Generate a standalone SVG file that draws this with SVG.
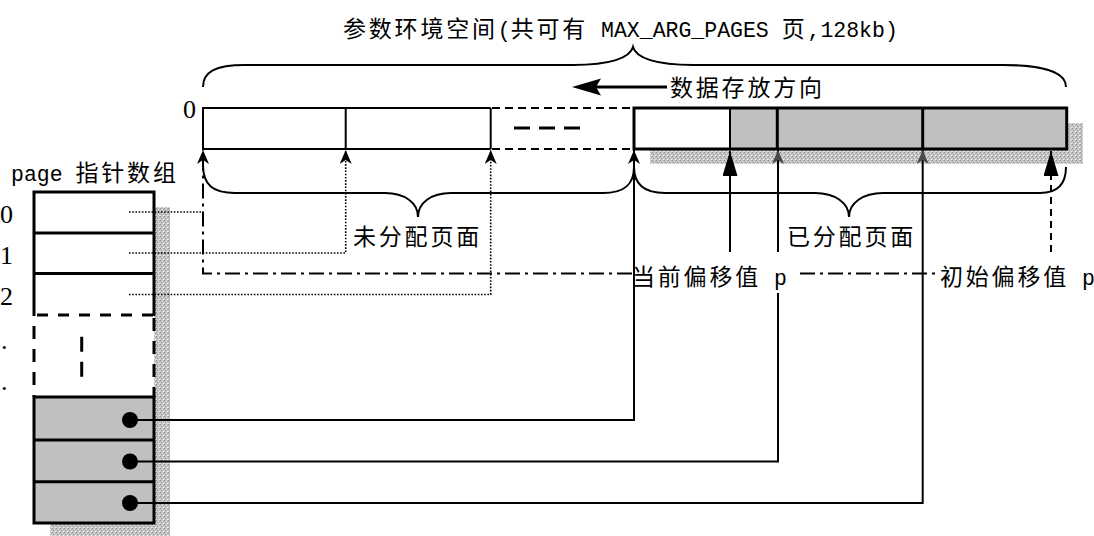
<svg xmlns="http://www.w3.org/2000/svg" width="1094" height="536" viewBox="0 0 1094 536">
<style>
.t{font-family:"Liberation Mono","Noto Sans CJK SC",monospace;font-size:21.5px;fill:#000}
.c{font-family:"Noto Sans CJK SC",sans-serif;font-size:23px;letter-spacing:2.8px}
.d{font-family:"Liberation Serif",serif;font-size:26px;fill:#000}
.ln{fill:none;stroke:#000}
.dot{fill:none;stroke:#000;stroke-width:1.6;stroke-dasharray:1.6 1.6}
.dd{fill:none;stroke:#000;stroke-width:2;stroke-dasharray:15 5 3 5}
.brace{fill:none;stroke:#000;stroke-width:2}
</style>
<defs>
<pattern id="stip" width="4" height="4" patternUnits="userSpaceOnUse">
<rect width="4" height="4" fill="#c4c4c4"/>
<rect x="0" y="0" width="1" height="1" fill="#8c8c8c"/>
<rect x="2" y="1" width="1" height="1" fill="#e6e6e6"/>
<rect x="1" y="2" width="1" height="1" fill="#9a9a9a"/>
<rect x="3" y="3" width="1" height="1" fill="#eeeeee"/>
<rect x="3" y="1" width="1" height="1" fill="#a8a8a8"/>
<rect x="0" y="3" width="1" height="1" fill="#dddddd"/>
</pattern>
<marker id="stealth" viewBox="0 0 14 12" refX="14" refY="6" markerWidth="14" markerHeight="12" markerUnits="userSpaceOnUse" orient="auto"><path d="M0,0 L14,6 L0,12 L4,6 Z" fill="#000"/></marker>
<marker id="stealthg" viewBox="0 0 14 12" refX="14" refY="6" markerWidth="14" markerHeight="12" markerUnits="userSpaceOnUse" orient="auto"><path d="M0,0 L14,6 L0,12 L4,6 Z" fill="#4a4a4a"/></marker>
<marker id="tri" viewBox="0 0 25 15" refX="25" refY="7.5" markerWidth="25" markerHeight="15" markerUnits="userSpaceOnUse" orient="auto"><path d="M0,0 L25,7.5 L0,15 Z" fill="#000"/></marker>
</defs>
<rect width="1094" height="536" fill="#fff"/>

<!-- title and top brace -->
<g id="title">
<text class="t" x="343" y="37"><tspan class="c">参数环境空间</tspan>(<tspan class="c">共可有</tspan> MAX_ARG_PAGES <tspan class="c">页</tspan>,128kb)</text>
<path class="brace" d="M203,87 C203,72 215,65 245,65 L573,65 C610,65 630,58 633,47 C636,58 656,65 693,65 L1003,65 C1042,65 1066,72 1066,87"/>
</g>

<g id="direction">
<line class="ln" x1="596" y1="87" x2="667" y2="87" stroke-width="3"/>
<path d="M572,87 L601,78.5 L596,87 L601,95.5 Z" fill="#000"/>
<text class="t" x="670" y="96"><tspan class="c">数据存放方向</tspan></text>
</g>

<!-- parameter space strip -->
<g id="param-space">
<rect x="650" y="123" width="433" height="41" fill="url(#stip)"/>
<text class="d" x="183" y="118">0</text>
<path class="ln" stroke-width="2" d="M490.7,108 L203,108 L203,149 L490.7,149 M345.7,108 V149 M490.7,108 V149"/>
<path class="ln" stroke-width="2" stroke-dasharray="8 5" d="M492,108 H634 M492,149 H634"/>
<line class="ln" x1="514" y1="128" x2="581" y2="128" stroke-width="3" stroke-dasharray="16 9"/>
<rect x="634" y="108" width="96" height="41" fill="#fff"/>
<rect x="730" y="108" width="336.7" height="41" fill="#c0c0c0"/>
<line class="ln" x1="730" y1="108" x2="730" y2="149" stroke-width="2"/>
<line class="ln" x1="777.3" y1="108" x2="777.3" y2="149" stroke-width="3"/>
<line class="ln" x1="922.7" y1="108" x2="922.7" y2="149" stroke-width="3"/>
<rect x="634" y="108" width="432.7" height="41" fill="none" stroke="#000" stroke-width="3"/>
</g>

<!-- page pointer array -->
<g id="page-array">
<rect x="50" y="207" width="120" height="331" fill="url(#stip)"/>
<text class="t" x="11" y="181">page <tspan class="c">指针数组</tspan></text>
<text class="d" x="0" y="223">0</text>
<text class="d" x="0" y="264">1</text>
<text class="d" x="0" y="305">2</text>
<text class="d" x="1" y="349">.</text>
<text class="d" x="1" y="390">.</text>
<rect x="34" y="192" width="120" height="123" fill="#fff"/>
<rect x="34" y="315" width="120" height="82" fill="#fff"/>
<path class="ln" stroke-width="3" d="M34,316 V192 H154 V316 M34,233 H154 M34,273.5 H154"/>
<path class="ln" stroke-width="3" stroke-dasharray="11 10" d="M37,315 H154"/>
<path class="ln" stroke-width="3" stroke-dasharray="13 10" d="M34,326 V397 M154,318 V397"/>
<path class="ln" stroke-width="3" d="M81.7,336.7 V351.7 M81.7,361.7 V376.7"/>
<rect x="34" y="397" width="120" height="126" fill="#c0c0c0" stroke="#000" stroke-width="3"/>
<path class="ln" stroke-width="3" d="M34,440 H154 M34,481.7 H154"/>
<circle cx="130" cy="420" r="8" fill="#000"/>
<circle cx="130" cy="461.5" r="8" fill="#000"/>
<circle cx="130" cy="503" r="8" fill="#000"/>
</g>

<!-- braces under the strip -->
<g id="unallocated">
<path class="brace" d="M203,165 C203,185 213,193 235,193 L385,193 C405,193 418,203 418,217 C418,203 431,193 451,193 L603,193 C624,193 634,185 634,167"/>
<text class="t" x="353" y="245"><tspan class="c">未分配页面</tspan></text>
</g>
<g id="allocated">
<path class="brace" d="M634,167 C634,185 645,193 665,193 L815,193 C835,193 849,203 849,217 C849,203 863,193 883,193 L1040,193 C1058,193 1066,183 1066,167"/>
<text class="t" x="787" y="245"><tspan class="c">已分配页面</tspan></text>
</g>

<g id="connectors">
<path class="dot" d="M129,212 H203"/>
<path class="dot" d="M129,253 H345.7 V150" marker-end="url(#stealth)"/>
<path class="dot" d="M129,294.5 H490.7 V150" marker-end="url(#stealth)"/>
<path class="dd" d="M632,273.5 H203 V150" marker-end="url(#stealth)"/>
<path class="dd" d="M800,273.5 H936"/>
<path class="ln" stroke-width="2" d="M130,420 H634 V150" marker-end="url(#stealth)"/>
<path class="ln" stroke-width="2" d="M130,461.5 H778 V293"/>
<path class="ln" stroke-width="2" d="M778,252 V150" marker-end="url(#stealthg)"/>
<path class="ln" stroke-width="2" d="M130,503 H922.7 V150" marker-end="url(#stealthg)"/>
<path class="ln" stroke-width="2" d="M730,252 V151" marker-end="url(#tri)"/>
<path class="ln" stroke-width="2" stroke-dasharray="7 5" d="M1051,252 V151" marker-end="url(#tri)"/>
</g>

<g id="labels">
<text class="t" x="632" y="285"><tspan class="c">当前偏移值</tspan> p</text>
<text class="t" x="940" y="285"><tspan class="c">初始偏移值</tspan> p</text>
</g>
</svg>
